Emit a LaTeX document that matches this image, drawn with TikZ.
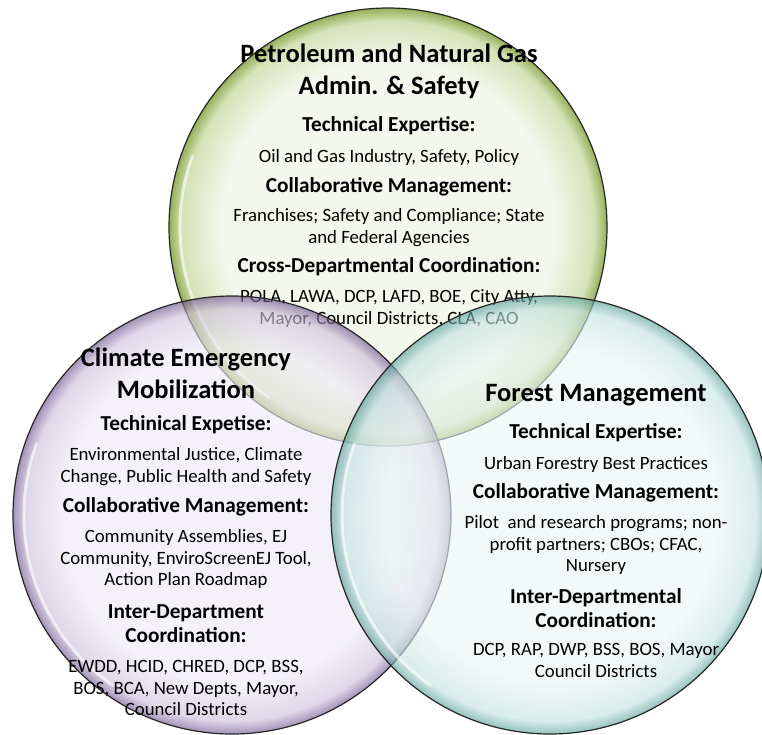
\documentclass[tikz,border=0pt]{standalone}
\usepackage{fontspec}
\setmainfont{Carlito}
\definecolor{gin}{RGB}{243,247,236}
\definecolor{gmid}{RGB}{214,226,184}
\definecolor{gout}{RGB}{150,175,88}
\definecolor{pin}{RGB}{238,234,244}
\definecolor{pmid}{RGB}{204,192,220}
\definecolor{pout}{RGB}{106,80,138}
\definecolor{tin}{RGB}{234,245,244}
\definecolor{tmid}{RGB}{194,226,223}
\definecolor{tout}{RGB}{84,156,150}
\pgfdeclareradialshading{greenball}{\pgfpoint{0bp}{0bp}}{color(0bp)=(gin); color(19bp)=(gin); color(23.5bp)=(gmid); color(25bp)=(gout); color(50bp)=(gout)}
\pgfdeclareradialshading{purpleball}{\pgfpoint{0bp}{0bp}}{color(0bp)=(pin); color(19bp)=(pin); color(23.5bp)=(pmid); color(25bp)=(pout); color(50bp)=(pout)}
\pgfdeclareradialshading{tealball}{\pgfpoint{0bp}{0bp}}{color(0bp)=(tin); color(19bp)=(tin); color(23.5bp)=(tmid); color(25bp)=(tout); color(50bp)=(tout)}
\tikzset{
  ball/.style={draw=black!85, line width=1.2pt},
  shine/.style={draw=white, line width=3pt, opacity=0.65, line cap=round},
  ttl/.style={font=\fontsize{26.5}{32}\selectfont\bfseries, align=center, inner sep=0pt},
  hdr/.style={font=\fontsize{21.3}{24}\selectfont\bfseries, align=center, inner sep=0pt},
  bdy/.style={font=\fontsize{18.8}{21.5}\selectfont, align=center, inner sep=0pt},
}
\begin{document}
\begin{tikzpicture}[x=1pt,y=-1pt]
\useasboundingbox (0,0) rectangle (762,734);
% green circle
\shade[shading=greenball, ball] (388,227) circle (219);
\draw[shine] (388,227) ++(200:208) arc[start angle=200, end angle=125, radius=208];
\node[ttl] (gt) at (389,71) {Petroleum and Natural Gas\\Admin. \& Safety};
\node[hdr] (gh1) at (389,126) {Technical Expertise:};
\node[bdy] (gb1) at (389,157) {Oil and Gas Industry, Safety, Policy};
\node[hdr] (gh2) at (389,187) {Collaborative Management:};
\node[bdy] (gb2) at (389,227.5) {Franchises; Safety and Compliance; State\\and Federal Agencies};
\node[hdr] (gh3) at (389,267) {Cross-Departmental Coordination:};
\node[bdy] (gb3) at (389,308.5) {POLA, LAWA, DCP, LAFD, BOE, City Atty,\\Mayor, Council Districts, CLA, CAO};
% purple circle
\shade[shading=purpleball, ball, fill opacity=0.62] (232,515) circle (219);
\draw[shine] (232,515) ++(200:208) arc[start angle=200, end angle=125, radius=208];
\node[ttl] (pt) at (186,373) {Climate Emergency\\Mobilization};
\node[hdr] (ph1) at (186,425) {Techinical Expetise:};
\node[bdy] (pb1) at (186,466.5) {Environmental Justice, Climate\\Change, Public Health and Safety};
\node[hdr] (ph2) at (186,507) {Collaborative Management:};
\node[bdy] (pb2) at (186,559) {Community Assemblies, EJ\\Community, EnviroScreenEJ Tool,\\Action Plan Roadmap};
\node[hdr] (ph3) at (186,624) {Inter-Department\\Coordination:};
\node[bdy] (pb3) at (186,688) {EWDD, HCID, CHRED, DCP, BSS,\\BOS, BCA, New Depts, Mayor,\\Council Districts};
% teal circle
\shade[shading=tealball, ball, fill opacity=0.62] (550,515) circle (219);
\draw[shine] (550,515) ++(200:208) arc[start angle=200, end angle=125, radius=208];
\node[ttl] (tt) at (596,395) {Forest Management};
\node[hdr] (th1) at (596,433) {Technical Expertise:};
\node[bdy] (tb1) at (596,464) {Urban Forestry Best Practices};
\node[hdr] (th2) at (596,493) {Collaborative Management:};
\node[bdy] (tb2) at (596,545) {Pilot\ \ and research programs; non-\\profit partners; CBOs; CFAC,\\Nursery};
\node[hdr] (th3) at (596,608) {Inter-Departmental\\Coordination:};
\node[bdy] (tb3) at (596,660.5) {DCP, RAP, DWP, BSS, BOS, Mayor\\Council Districts};
\end{tikzpicture}
\end{document}
